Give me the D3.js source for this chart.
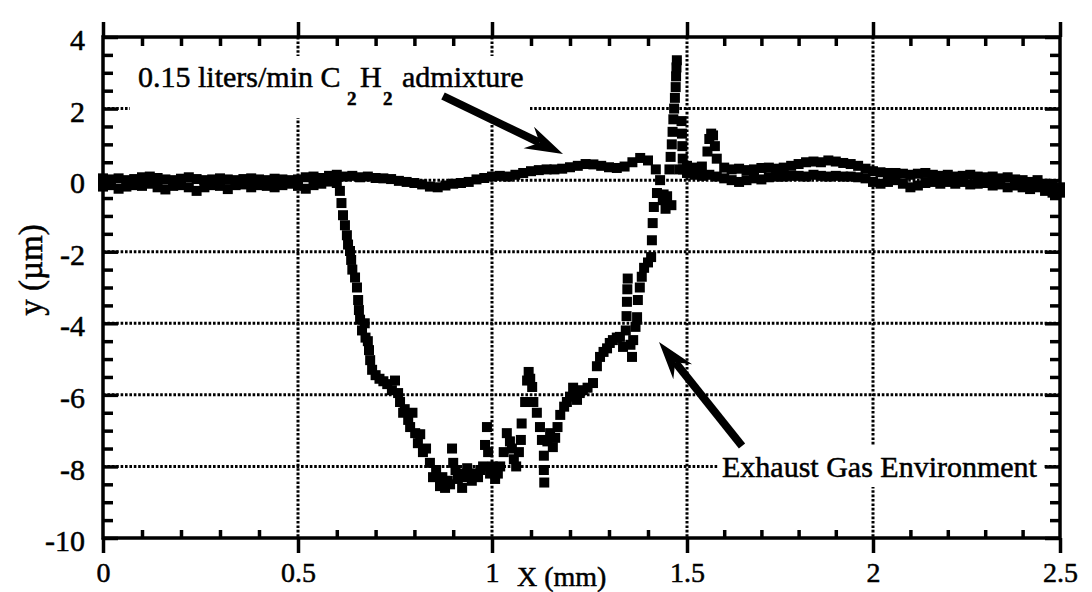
<!DOCTYPE html>
<html>
<head>
<meta charset="utf-8">
<script src="https://cdn.jsdelivr.net/npm/d3@7"></script>
<style>
  body { margin: 0; background: #fff; }
  svg { display: block; }
  svg text { font-family: "Liberation Serif", "Times New Roman", Times, "DejaVu Serif", serif; fill: #000; stroke: #000; stroke-width: 0.5px; }
</style>
</head>
<body>
<div id="chart"></div>
<script>
const width = 1092;
const height = 592;

// tick values / labels
const xMajor = [0, 0.5, 1, 1.5, 2, 2.5];
const xTickLabels = ["0", "0.5", "1", "1.5", "2", "2.5"];
const xMinor = [0.1,0.2,0.3,0.4,0.6,0.7,0.8,0.9,1.1,1.2,1.3,1.4,1.6,1.7,1.8,1.9,2.1,2.2,2.3,2.4];
const yMajor = [-10, -8, -6, -4, -2, 0, 2, 4];
const yTickLabels = ["-10", "-8", "-6", "-4", "-2", "0", "2", "4"];
const yMinor = [-9.5,-9,-8.5,-7.5,-7,-6.5,-5.5,-5,-4.5,-3.5,-3,-2.5,-1.5,-1,-0.5,0.5,1,1.5,2.5,3,3.5];
const gridX = [0.5, 1, 1.5, 2];
const gridY = [-8, -6, -4, -2, 0, 2];

// 0.15 liters/min C2H2 admixture  [x (mm), y (um)]
const c2h2Admixture = [
  [0.00,0.05],[0.02,0.02],[0.04,0.05],[0.06,0.00],[0.08,0.03],[0.10,0.08],[0.12,0.10],[0.14,0.06],[0.16,0.02],[0.18,0.00],
  [0.20,0.04],[0.22,0.08],[0.24,0.03],[0.26,0.00],[0.28,0.02],[0.30,0.05],[0.32,0.02],[0.34,0.00],[0.36,0.03],[0.38,0.05],
  [0.40,0.02],[0.42,0.00],[0.44,0.04],[0.46,0.02],[0.48,0.00],[0.50,0.02],[0.52,0.08],[0.54,0.10],[0.56,0.06],[0.58,0.12],
  [0.60,0.15],[0.62,0.10],[0.64,0.12],[0.66,0.08],[0.68,0.10],[0.70,0.06],[0.72,0.05],[0.74,0.03],[0.76,-0.02],[0.78,-0.05],
  [0.80,-0.08],[0.82,-0.12],[0.84,-0.18],[0.86,-0.20],[0.88,-0.15],[0.90,-0.10],[0.92,-0.08],[0.94,-0.05],[0.96,0.02],[0.98,0.06],
  [1.00,0.10],[1.02,0.12],[1.04,0.10],[1.06,0.15],[1.08,0.20],[1.10,0.25],[1.12,0.28],[1.14,0.30],[1.16,0.30],[1.18,0.32],
  [1.20,0.36],[1.22,0.40],[1.24,0.45],[1.26,0.44],[1.28,0.40],[1.30,0.36],[1.32,0.34],[1.34,0.38],[1.36,0.50],[1.38,0.62],
  [1.40,0.55],[1.42,0.30],[1.44,-0.40],[1.46,-0.70],[1.48,0.30],[1.50,0.40],[1.52,0.35],[1.54,0.38],[1.555,0.80],[1.56,1.15],
  [1.565,1.30],[1.57,1.25],[1.575,0.95],[1.58,0.60],[1.60,0.35],[1.62,0.30],[1.64,0.32],[1.66,0.28],[1.68,0.30],[1.70,0.34],
  [1.72,0.35],[1.74,0.32],[1.76,0.35],[1.78,0.40],[1.80,0.45],[1.82,0.50],[1.84,0.52],[1.86,0.50],[1.88,0.55],[1.90,0.52],
  [1.92,0.48],[1.94,0.45],[1.96,0.40],[1.98,0.32],[2.00,0.25],[2.02,0.22],[2.04,0.20],[2.06,0.20],[2.08,0.18],[2.10,0.15],
  [2.12,0.18],[2.14,0.20],[2.16,0.15],[2.18,0.12],[2.20,0.15],[2.22,0.10],[2.24,0.12],[2.26,0.15],[2.28,0.10],[2.30,0.08],
  [2.32,0.10],[2.34,0.05],[2.36,0.08],[2.38,0.02],[2.40,0.00],[2.42,-0.05],[2.44,0.00],[2.46,-0.10],[2.48,-0.15],[2.50,-0.20]
];

// Exhaust Gas Environment  [x (mm), y (um)]
const exhaustGas = [
  [0.00,-0.18],[0.02,-0.14],[0.04,-0.24],[0.06,-0.18],[0.08,-0.14],[0.10,-0.16],[0.12,-0.10],[0.14,-0.20],[0.16,-0.26],[0.18,-0.16],
  [0.20,-0.14],[0.22,-0.20],[0.24,-0.30],[0.26,-0.20],[0.28,-0.14],[0.30,-0.16],[0.32,-0.25],[0.34,-0.14],[0.36,-0.12],[0.38,-0.20],
  [0.40,-0.14],[0.42,-0.16],[0.44,-0.20],[0.46,-0.14],[0.48,-0.10],[0.50,-0.16],[0.52,-0.24],[0.54,-0.14],[0.56,-0.10],[0.58,-0.04],
  [0.60,-0.08],[0.608,-0.30],[0.612,-0.64],[0.616,-0.98],[0.621,-1.26],[0.626,-1.54],[0.629,-1.80],[0.634,-1.98],[0.637,-2.23],
  [0.640,-2.50],[0.647,-2.72],[0.652,-3.00],[0.655,-3.35],[0.657,-3.63],[0.660,-3.90],[0.665,-4.20],[0.672,-4.00],[0.674,-4.40],
  [0.680,-4.50],[0.683,-4.75],[0.686,-5.03],[0.691,-5.30],[0.700,-5.45],[0.710,-5.55],[0.720,-5.62],[0.730,-5.70],[0.742,-5.87],
  [0.750,-5.60],[0.758,-5.95],[0.763,-6.20],[0.771,-6.50],[0.775,-6.40],[0.784,-6.70],[0.789,-6.90],[0.795,-6.50],[0.802,-7.07],
  [0.809,-7.35],[0.815,-7.10],[0.822,-7.60],[0.830,-7.50],[0.840,-7.90],[0.848,-8.30],[0.856,-8.10],[0.866,-8.55],[0.872,-8.30],
  [0.879,-8.60],[0.886,-8.40],[0.892,-8.50],[0.897,-7.50],[0.900,-7.90],[0.906,-8.10],[0.912,-8.35],[0.918,-8.20],[0.923,-8.60],
  [0.930,-8.30],[0.936,-8.05],[0.942,-8.20],[0.948,-8.40],[0.956,-8.20],[0.964,-8.30],[0.970,-8.10],[0.977,-8.00],[0.982,-7.40],
  [0.987,-6.90],[0.990,-7.60],[0.995,-8.20],[1.002,-8.00],[1.008,-8.35],[1.015,-8.20],[1.021,-8.00],[1.030,-7.60],[1.038,-7.07],
  [1.046,-7.30],[1.051,-7.50],[1.056,-7.80],[1.062,-8.00],[1.069,-7.60],[1.074,-7.26],[1.076,-6.80],[1.085,-6.20],[1.090,-5.60],
  [1.094,-5.36],[1.098,-5.55],[1.103,-5.78],[1.106,-6.20],[1.115,-6.50],[1.123,-6.90],[1.128,-7.26],[1.133,-7.70],[1.133,-8.10],
  [1.134,-8.45],[1.142,-7.30],[1.149,-7.07],[1.156,-7.46],[1.162,-7.20],[1.168,-6.90],[1.175,-6.56],[1.185,-6.33],[1.192,-6.20],
  [1.200,-6.05],[1.208,-5.80],[1.218,-6.14],[1.225,-5.95],[1.233,-5.87],[1.245,-5.80],[1.259,-5.67],[1.269,-5.20],[1.277,-4.94],
  [1.286,-4.80],[1.295,-4.70],[1.302,-4.55],[1.310,-4.47],[1.320,-4.40],[1.328,-4.38],[1.336,-4.66],[1.343,-4.20],[1.345,-3.80],
  [1.346,-3.40],[1.347,-3.05],[1.348,-2.75],[1.355,-4.60],[1.359,-4.94],[1.362,-4.47],[1.368,-4.10],[1.372,-3.83],[1.374,-3.35],
  [1.379,-3.00],[1.384,-2.70],[1.390,-2.45],[1.400,-2.30],[1.408,-2.15],[1.410,-1.68],[1.412,-1.20],[1.415,-0.75],[1.423,-0.36],
  [1.431,0.00],[1.438,-0.56],[1.445,-0.80],[1.449,-0.45],[1.455,0.30],[1.458,0.65],[1.461,1.00],[1.463,1.35],[1.465,1.70],
  [1.467,2.00],[1.469,2.30],[1.471,2.60],[1.472,2.90],[1.473,3.15],[1.474,3.35],[1.486,1.65],[1.487,1.30],[1.488,0.95],
  [1.489,0.60],[1.490,0.30],[1.50,0.20],[1.52,0.15],[1.54,0.12],[1.56,0.15],[1.58,0.10],[1.60,0.05],[1.62,0.00],[1.64,-0.05],
  [1.66,0.00],[1.68,0.05],[1.70,0.02],[1.72,0.08],[1.74,0.10],[1.76,0.10],[1.78,0.12],[1.80,0.12],[1.82,0.10],[1.84,0.15],
  [1.86,0.12],[1.88,0.10],[1.90,0.12],[1.92,0.10],[1.94,0.10],[1.96,0.08],[1.98,0.05],[2.00,-0.05],[2.02,-0.10],[2.04,-0.05],
  [2.06,0.00],[2.08,-0.10],[2.10,-0.20],[2.12,-0.15],[2.14,-0.08],[2.16,-0.05],[2.18,-0.10],[2.20,-0.05],[2.22,-0.10],[2.24,-0.05],
  [2.26,-0.12],[2.28,-0.10],[2.30,-0.08],[2.32,-0.15],[2.34,-0.12],[2.36,-0.20],[2.38,-0.15],[2.40,-0.20],[2.42,-0.25],[2.44,-0.20],
  [2.46,-0.30],[2.48,-0.35],[2.50,-0.35]
];

const serif = '"Liberation Serif", "Times New Roman", Times, "DejaVu Serif", serif';

const svg = d3.select("#chart").append("svg")
    .attr("width", width)
    .attr("height", height)
    .attr("font-family", serif)
    .style("background-color", "#fff");

// the scanned axis is slightly uneven, so map each half-mm mark to where it sits
const x = d3.scaleLinear()
    .domain([0, 0.5, 1, 1.5, 2, 2.5])
    .range([103, 298, 492, 687, 873, 1060]);

const y = d3.scaleLinear()
    .domain([-10, 4])
    .range([538, 37]);

// dotted grid
svg.append("g").selectAll("line")
    .data(gridX)
    .enter().append("line")
    .attr("x1", d => x(d)).attr("x2", d => x(d))
    .attr("y1", y(4)).attr("y2", y(-10))
    .attr("stroke", "#000").attr("stroke-width", 3)
    .attr("stroke-dasharray", "2.6 1.8");

svg.append("g").selectAll("line")
    .data(gridY)
    .enter().append("line")
    .attr("x1", x(0)).attr("x2", x(2.5))
    .attr("y1", d => y(d)).attr("y2", d => y(d))
    .attr("stroke", "#000").attr("stroke-width", 3)
    .attr("stroke-dasharray", "2.6 1.8");

// white boxes behind the two labels (they cut the grid in the original)
svg.append("rect").attr("x", 130).attr("y", 56).attr("width", 400).attr("height", 62).attr("fill", "#fff");
svg.append("rect").attr("x", 719).attr("y", 445).attr("width", 324).attr("height", 42).attr("fill", "#fff");

// data points: filled squares
const sq = 10;
function drawSeries(data) {
    svg.append("g").selectAll("rect")
        .data(data)
        .enter().append("rect")
        .attr("x", d => x(d[0]) - sq / 2)
        .attr("y", d => y(d[1]) - sq / 2)
        .attr("width", sq)
        .attr("height", sq)
        .attr("fill", "#000");
}
drawSeries(c2h2Admixture);
drawSeries(exhaustGas);

// axes
function styleAxis(g) {
    g.attr("font-family", serif);
    g.select(".domain").remove();
    g.selectAll(".tick line").attr("stroke", "#000").attr("stroke-width", 3.5);
}

svg.append("g").attr("transform", `translate(0,${y(-10)})`)
    .call(d3.axisBottom(x).tickValues(xMinor).tickSize(-8).tickFormat(""))
    .call(styleAxis);
svg.append("g").attr("transform", `translate(0,${y(-10)})`)
    .call(d3.axisBottom(x).tickValues(xMajor).tickSize(15).tickPadding(9)
        .tickFormat((d, i) => xTickLabels[i]))
    .call(styleAxis)
    .selectAll("text").style("font-size", "28px");

svg.append("g").attr("transform", `translate(0,${y(4)})`)
    .call(d3.axisTop(x).tickValues(xMinor).tickSize(-9).tickFormat(""))
    .call(styleAxis);
svg.append("g").attr("transform", `translate(0,${y(4)})`)
    .call(d3.axisTop(x).tickValues(xMajor).tickSize(15).tickFormat(""))
    .call(styleAxis);

svg.append("g").attr("transform", `translate(${x(0)},0)`)
    .call(d3.axisLeft(y).tickValues(yMinor).tickSize(-10).tickFormat(""))
    .call(styleAxis);
svg.append("g").attr("transform", `translate(${x(0)},0)`)
    .call(d3.axisLeft(y).tickValues(yMajor).tickSize(-15).tickPadding(18)
        .tickFormat((d, i) => yTickLabels[i]))
    .call(styleAxis)
    .selectAll("text").style("font-size", "30px").attr("dy", "0.42em");

svg.append("g").attr("transform", `translate(${x(2.5)},0)`)
    .call(d3.axisRight(y).tickValues(yMinor).tickSize(-10).tickFormat(""))
    .call(styleAxis);
svg.append("g").attr("transform", `translate(${x(2.5)},0)`)
    .call(d3.axisRight(y).tickValues(yMajor).tickSize(-15).tickFormat(""))
    .call(styleAxis);

// frame
svg.append("rect")
    .attr("x", x(0)).attr("y", y(4))
    .attr("width", x(2.5) - x(0)).attr("height", y(-10) - y(4))
    .attr("fill", "none").attr("stroke", "#000").attr("stroke-width", 3.5);

// axis titles
svg.append("text")
    .attr("x", 517).attr("y", 586)
    .style("font-size", "28px")
    .text("X (mm)");

svg.append("text")
    .attr("transform", "translate(42,270) rotate(-90)")
    .attr("text-anchor", "middle")
    .style("font-size", "33px")
    .text("y (µm)");

// annotation: C2H2 admixture
const note = svg.append("text").style("font-size", "30px");
note.append("tspan").attr("x", 138).attr("y", 87).text("0.15 liters/min C");
note.append("tspan").attr("x", 347).attr("y", 105).style("font-size", "19px").style("font-weight", "bold").text("2");
note.append("tspan").attr("x", 360).attr("y", 87).text("H");
note.append("tspan").attr("x", 383).attr("y", 105).style("font-size", "19px").style("font-weight", "bold").text("2");
note.append("tspan").attr("x", 402).attr("y", 87).text("admixture");

svg.append("text")
    .attr("x", 722).attr("y", 477)
    .style("font-size", "30px")
    .text("Exhaust Gas Environment");

// thick arrows with barbed heads
function arrow(x1, y1, x2, y2) {
    const a = Math.atan2(y2 - y1, x2 - x1);
    const c = Math.cos(a), s = Math.sin(a);
    const L = 38, W = 12, N = 26;
    const nx = x2 - N * c, ny = y2 - N * s;
    svg.append("line")
        .attr("x1", x1).attr("y1", y1).attr("x2", nx).attr("y2", ny)
        .attr("stroke", "#000").attr("stroke-width", 8);
    const pts = [
        [x2, y2],
        [x2 - L * c - W * s, y2 - L * s + W * c],
        [nx, ny],
        [x2 - L * c + W * s, y2 - L * s - W * c]
    ];
    svg.append("path")
        .attr("d", d3.line()(pts) + "Z")
        .attr("fill", "#000");
}
arrow(443, 96, 563, 154);
arrow(742, 446, 659, 342);
</script>
</body>
</html>
